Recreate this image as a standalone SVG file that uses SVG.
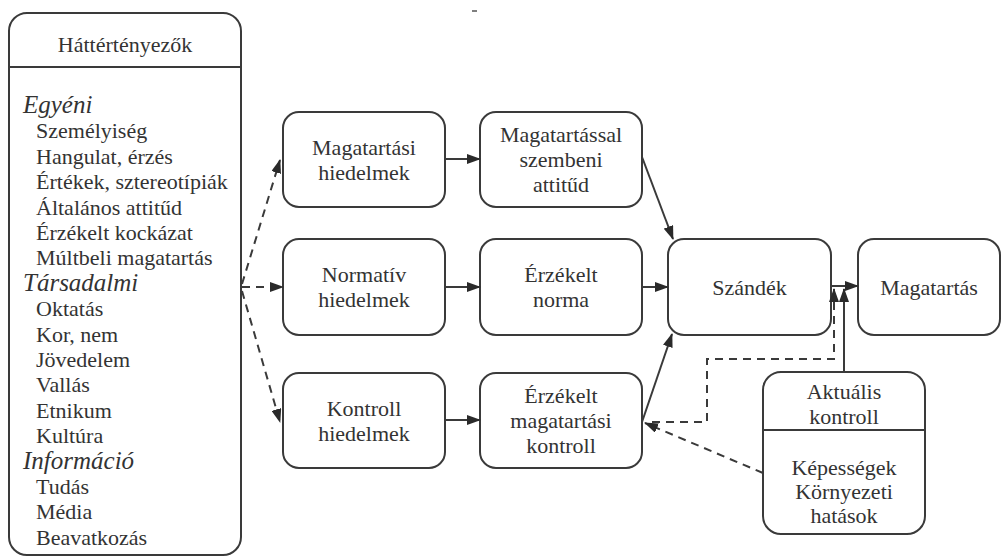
<svg xmlns="http://www.w3.org/2000/svg" width="1008" height="560" viewBox="0 0 1008 560">
<style>
.box{fill:#fff;stroke:#3a3a3a;stroke-width:2}
.t{font-family:"Liberation Serif","Times New Roman",serif;font-size:22px;fill:#333}
.c{text-anchor:middle}
.h{font-style:italic;font-size:25px}
.ln{fill:none;stroke:#3a3a3a;stroke-width:2}
.d{stroke-dasharray:8 6}
</style>
<defs>
<marker id="ah" markerUnits="userSpaceOnUse" markerWidth="14" markerHeight="10" refX="13" refY="5" orient="auto">
<path d="M0,0 L14,5 L0,10 Z" fill="#2a2a2a"/>
</marker>
</defs>
<rect width="1008" height="560" fill="#fff"/>
<line x1="472" y1="11" x2="477" y2="11" stroke="#555" stroke-width="1.5"/>

<g id="hattertenyezok">
<rect class="box" x="9" y="13" width="232" height="542" rx="18"/>
<line class="ln" x1="9" y1="67" x2="241" y2="67"/>
<text class="t c" x="125" y="52">Háttértényezők</text>
<text class="t h" x="23" y="113">Egyéni</text>
<text class="t" x="36" y="138.4">Személyiség</text>
<text class="t" x="36" y="163.8">Hangulat, érzés</text>
<text class="t" x="36" y="189.2">Értékek, sztereotípiák</text>
<text class="t" x="36" y="214.6">Általános attitűd</text>
<text class="t" x="36" y="240">Érzékelt kockázat</text>
<text class="t" x="36" y="265.4">Múltbeli magatartás</text>
<text class="t h" x="23" y="290.8">Társadalmi</text>
<text class="t" x="36" y="316.2">Oktatás</text>
<text class="t" x="36" y="341.6">Kor, nem</text>
<text class="t" x="36" y="367">Jövedelem</text>
<text class="t" x="36" y="392.4">Vallás</text>
<text class="t" x="36" y="417.8">Etnikum</text>
<text class="t" x="36" y="443.2">Kultúra</text>
<text class="t h" x="23" y="468.6">Információ</text>
<text class="t" x="36" y="494">Tudás</text>
<text class="t" x="36" y="519.4">Média</text>
<text class="t" x="36" y="544.8">Beavatkozás</text>
</g>

<g id="magatartasi-hiedelmek">
<rect class="box" x="283" y="112" width="162" height="95" rx="16"/>
<text class="t c" x="364" y="154.5">Magatartási</text>
<text class="t c" x="364" y="179.5">hiedelmek</text>
</g>
<g id="attitud">
<rect class="box" x="480" y="112" width="162" height="95" rx="16"/>
<text class="t c" x="561" y="142">Magatartással</text>
<text class="t c" x="561" y="167">szembeni</text>
<text class="t c" x="561" y="192">attitűd</text>
</g>
<g id="normativ-hiedelmek">
<rect class="box" x="283" y="239" width="162" height="96" rx="16"/>
<text class="t c" x="364" y="281.5">Normatív</text>
<text class="t c" x="364" y="306.5">hiedelmek</text>
</g>
<g id="erzekelt-norma">
<rect class="box" x="480" y="239" width="162" height="96" rx="16"/>
<text class="t c" x="561" y="281.5">Érzékelt</text>
<text class="t c" x="561" y="306.5">norma</text>
</g>
<g id="kontroll-hiedelmek">
<rect class="box" x="283" y="373" width="162" height="95" rx="16"/>
<text class="t c" x="364" y="415.5">Kontroll</text>
<text class="t c" x="364" y="440.5">hiedelmek</text>
</g>
<g id="erzekelt-kontroll">
<rect class="box" x="480" y="373" width="162" height="95" rx="16"/>
<text class="t c" x="561" y="403">Érzékelt</text>
<text class="t c" x="561" y="428">magatartási</text>
<text class="t c" x="561" y="453">kontroll</text>
</g>
<g id="szandek">
<rect class="box" x="668" y="239" width="163" height="96" rx="16"/>
<text class="t c" x="749.5" y="294.5">Szándék</text>
</g>
<g id="magatartas">
<rect class="box" x="858" y="239" width="142" height="96" rx="16"/>
<text class="t c" x="929" y="294.5">Magatartás</text>
</g>
<g id="aktualis-kontroll">
<rect class="box" x="763" y="372" width="162" height="162" rx="18"/>
<line class="ln" x1="763" y1="430" x2="925" y2="430"/>
<text class="t c" x="844" y="399">Aktuális</text>
<text class="t c" x="844" y="424">kontroll</text>
<text class="t c" x="844" y="475">Képességek</text>
<text class="t c" x="844" y="499">Környezeti</text>
<text class="t c" x="844" y="523">hatások</text>
</g>

<g id="connectors">
<line class="ln d" x1="242" y1="284" x2="280" y2="160" marker-end="url(#ah)"/>
<line class="ln d" x1="242" y1="287" x2="283" y2="287" marker-end="url(#ah)"/>
<line class="ln d" x1="242" y1="291" x2="280" y2="422" marker-end="url(#ah)"/>
<line class="ln" x1="445" y1="159" x2="480" y2="159" marker-end="url(#ah)"/>
<line class="ln" x1="445" y1="287" x2="480" y2="287" marker-end="url(#ah)"/>
<line class="ln" x1="445" y1="420" x2="480" y2="420" marker-end="url(#ah)"/>
<line class="ln" x1="642" y1="157" x2="673" y2="239" marker-end="url(#ah)"/>
<line class="ln" x1="642" y1="287" x2="668" y2="287" marker-end="url(#ah)"/>
<line class="ln" x1="642" y1="422" x2="672" y2="334" marker-end="url(#ah)"/>
<line class="ln" x1="831" y1="286" x2="858" y2="286" marker-end="url(#ah)"/>
<line class="ln" x1="844" y1="372" x2="844" y2="289" marker-end="url(#ah)"/>
<polyline class="ln d" points="652,422 707,422 707,359 834,359 834,289" marker-end="url(#ah)"/>
<line class="ln d" x1="763" y1="473" x2="645" y2="423" marker-end="url(#ah)"/>
</g>
</svg>
